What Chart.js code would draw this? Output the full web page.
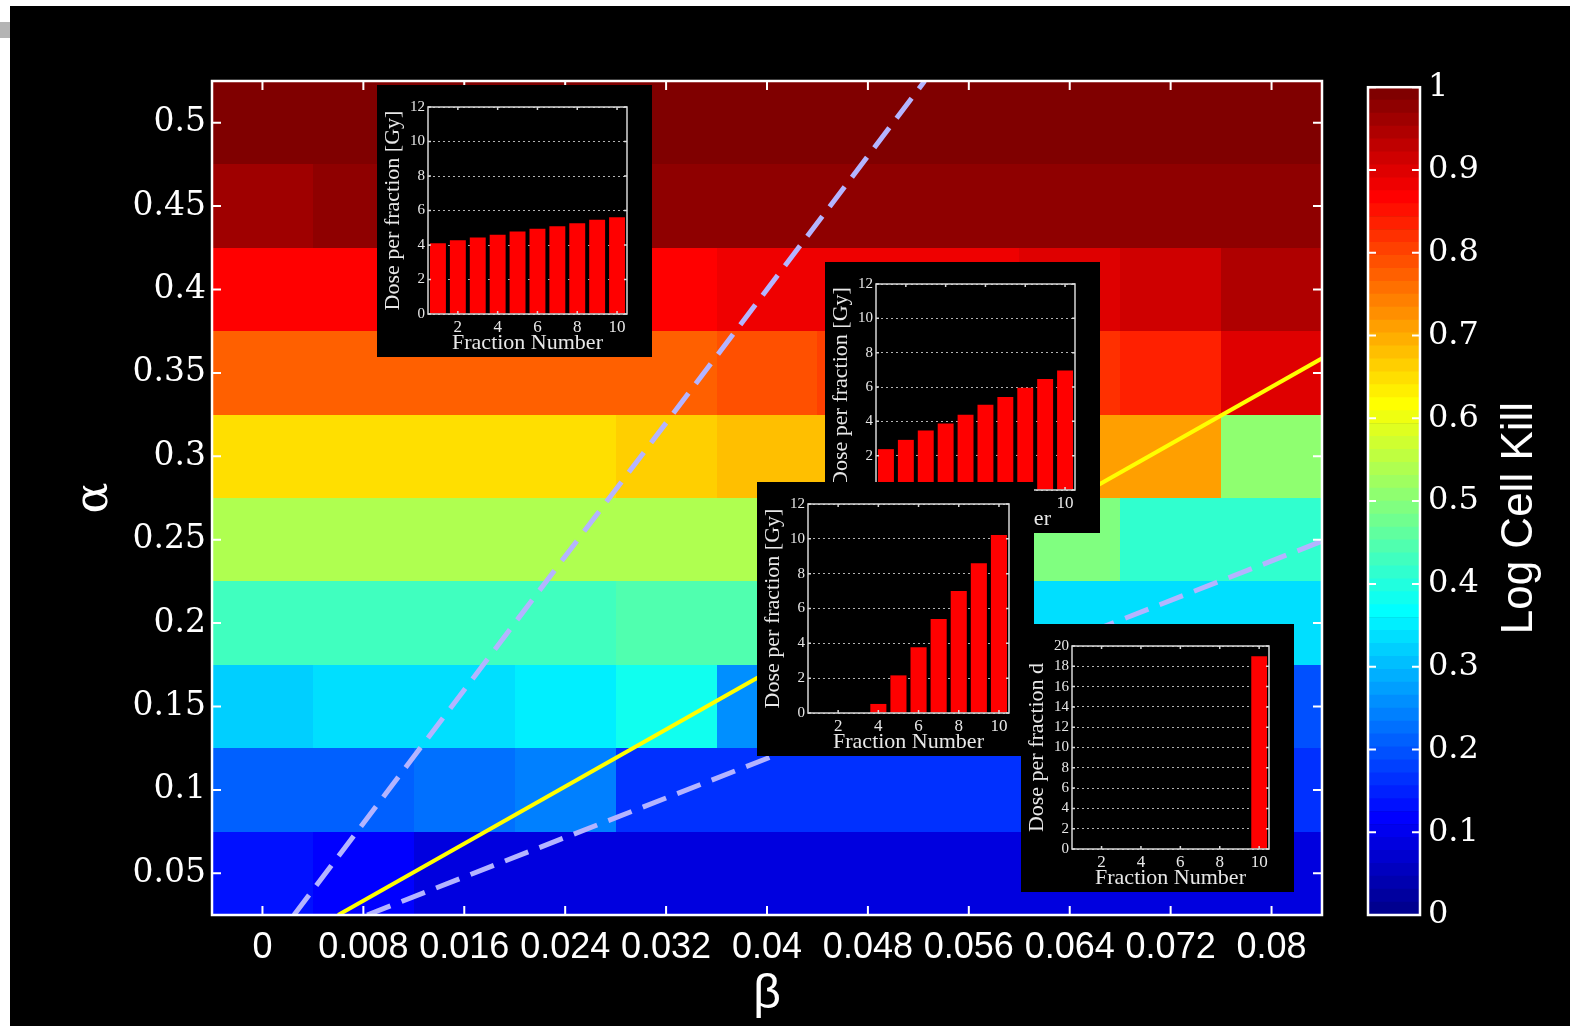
<!DOCTYPE html>
<html>
<head>
<meta charset="utf-8">
<script src="https://cdn.jsdelivr.net/npm/chart.js@4.4.1/dist/chart.umd.min.js"></script>
<style>
  html, body { margin: 0; padding: 0; width: 1570px; height: 1026px; overflow: hidden; background: #fff; position: relative; }
  #backdrop { position: absolute; left: 10px; top: 6px; width: 1560px; height: 1020px; background: #000; }
  #tab { position: absolute; left: 0; top: 22px; width: 10px; height: 16px; background: #b4b4b4; }
  .layer { position: absolute; }
  .inset { position: absolute; background: #000; }
  canvas { display: block; }
</style>
</head>
<body>
<div id="backdrop"></div>
<div id="tab"></div>
<div class="layer" style="left:0;top:0;"><canvas id="mainChart" width="1570" height="1026"></canvas></div>
<div class="layer" style="left:1340px;top:60px;"><canvas id="colorbar" width="230" height="900"></canvas></div>
<div class="inset" style="left:377px;top:85px;"><canvas id="insetA" width="275" height="272"></canvas></div>
<div class="inset" style="left:825px;top:262px;"><canvas id="insetB" width="275" height="271"></canvas></div>
<div class="inset" style="left:757px;top:482px;"><canvas id="insetC" width="277" height="274"></canvas></div>
<div class="inset" style="left:1021px;top:624px;"><canvas id="insetD" width="273" height="268"></canvas></div>

<script>
// ---- grid of the map: beta (columns) and alpha (rows) ----
const betaValues  = [0, 0.008, 0.016, 0.024, 0.032, 0.04, 0.048, 0.056, 0.064, 0.072, 0.08];
const alphaValues = [0.05, 0.1, 0.15, 0.2, 0.25, 0.3, 0.35, 0.4, 0.45, 0.5];
const xTickLabels = ['0', '0.008', '0.016', '0.024', '0.032', '0.04', '0.048', '0.056', '0.064', '0.072', '0.08'];
const yTickLabels = ['0.05', '0.1', '0.15', '0.2', '0.25', '0.3', '0.35', '0.4', '0.45', '0.5'];

// log cell kill, one row per alpha (0.05 first), one entry per beta
const killAlpha005 = [0.13, 0.12, 0.09, 0.09, 0.09, 0.09, 0.09, 0.09, 0.09, 0.09, 0.09];
const killAlpha010 = [0.21, 0.21, 0.23, 0.24, 0.16, 0.16, 0.16, 0.16, 0.16, 0.16, 0.16];
const killAlpha015 = [0.32, 0.34, 0.34, 0.35, 0.38, 0.26, 0.24, 0.23, 0.21, 0.21, 0.20];
const killAlpha020 = [0.43, 0.43, 0.43, 0.43, 0.45, 0.45, 0.41, 0.38, 0.34, 0.34, 0.34];
const killAlpha025 = [0.54, 0.54, 0.54, 0.54, 0.54, 0.54, 0.52, 0.51, 0.49, 0.41, 0.41];
const killAlpha030 = [0.65, 0.65, 0.65, 0.65, 0.66, 0.68, 0.68, 0.70, 0.71, 0.71, 0.51];
const killAlpha035 = [0.77, 0.77, 0.77, 0.77, 0.77, 0.79, 0.80, 0.82, 0.82, 0.84, 0.90];
const killAlpha040 = [0.87, 0.87, 0.87, 0.87, 0.87, 0.88, 0.88, 0.88, 0.90, 0.92, 0.95];
const killAlpha045 = [0.96, 0.98, 0.98, 0.98, 0.98, 0.98, 0.98, 0.98, 0.98, 0.98, 0.98];
const killAlpha050 = [0.99, 0.99, 0.99, 0.99, 0.99, 0.99, 0.99, 0.99, 0.99, 0.99, 0.99];
const logCellKill = [killAlpha005, killAlpha010, killAlpha015, killAlpha020, killAlpha025,
                     killAlpha030, killAlpha035, killAlpha040, killAlpha045, killAlpha050];

// boundary lines of constant alpha/beta (end points in beta, alpha)
const ratioLineSteep   = [{ x: 0.0025, y: 0.025 }, { x: 0.0525, y: 0.525 }];
const ratioLineMiddle  = [{ x: 0.0060, y: 0.025 }, { x: 0.0843, y: 0.360 }];
const ratioLineShallow = [{ x: 0.0083, y: 0.025 }, { x: 0.0843, y: 0.250 }];

// colour bar
const colorbarTicks  = [0, 0.1, 0.2, 0.3, 0.4, 0.5, 0.6, 0.7, 0.8, 0.9, 1];
const colorbarLabels = ['0', '0.1', '0.2', '0.3', '0.4', '0.5', '0.6', '0.7', '0.8', '0.9', '1'];
const colorLevels = 64;

// optimal fractionation schedules (dose per fraction, Gy)
const fractionNumbers = [1, 2, 3, 4, 5, 6, 7, 8, 9, 10];
const doseScheduleA = [4.10, 4.28, 4.43, 4.59, 4.78, 4.94, 5.09, 5.26, 5.46, 5.61];
const doseScheduleB = [2.38, 2.92, 3.46, 3.88, 4.38, 4.96, 5.42, 5.96, 6.46, 6.96];
const doseScheduleC = [0, 0, 0, 0.52, 2.16, 3.78, 5.39, 7.01, 8.60, 10.22];
const doseScheduleD = [0, 0, 0, 0, 0, 0, 0, 0, 0, 19.0];

// ---- jet colour map with 64 levels ----
function jetLevel(k) {
  const c = t => Math.round(255 * Math.max(0, Math.min(1, t)));
  const r = c(Math.min((k - 24) / 16, (72 - k) / 16));
  const g = c(Math.min((k - 8) / 16, (56 - k) / 16));
  const b = c(Math.min((k + 8) / 16, (40 - k) / 16));
  return `rgb(${r},${g},${b})`;
}
function jetColor(v) {
  const k = Math.min(colorLevels, Math.max(1, Math.floor(v * colorLevels) + 1));
  return jetLevel(k);
}

const WHITE = '#ffffff';

// heat map cells, painted under the lines
const heatmapPlugin = {
  id: 'heatmap',
  beforeDatasetsDraw(chart) {
    const { ctx, scales: { x, y } } = chart;
    const hb = (betaValues[1] - betaValues[0]) / 2;
    const ha = (alphaValues[1] - alphaValues[0]) / 2;
    ctx.save();
    logCellKill.forEach((row, i) => {
      const top = Math.round(y.getPixelForValue(alphaValues[i] + ha));
      const bottom = Math.round(y.getPixelForValue(alphaValues[i] - ha));
      row.forEach((v, j) => {
        const left = Math.round(x.getPixelForValue(betaValues[j] - hb));
        const right = Math.round(x.getPixelForValue(betaValues[j] + hb));
        ctx.fillStyle = jetColor(v);
        ctx.fillRect(left, top, right - left, bottom - top);
      });
    });
    ctx.restore();
  }
};

// white box with inward ticks on all four sides
const framePlugin = {
  id: 'frame',
  afterDatasetsDraw(chart, args, opts) {
    const { ctx, chartArea: a } = chart;
    const len = opts.tickLength || 9;
    ctx.save();
    ctx.strokeStyle = WHITE;
    ctx.lineWidth = 2;
    ctx.beginPath();
    Object.values(chart.scales).forEach(s => {
      if (!s.options.display) return;
      s.ticks.forEach(t => {
        if (s.isHorizontal()) {
          const px = s.getPixelForValue(t.value);
          ctx.moveTo(px, a.bottom); ctx.lineTo(px, a.bottom - len);
          ctx.moveTo(px, a.top); ctx.lineTo(px, a.top + len);
        } else {
          const py = s.getPixelForValue(t.value);
          ctx.moveTo(a.left, py); ctx.lineTo(a.left + len, py);
          ctx.moveTo(a.right, py); ctx.lineTo(a.right - len, py);
        }
      });
    });
    ctx.stroke();
    ctx.lineWidth = 2.5;
    ctx.strokeRect(a.left, a.top, a.right - a.left, a.bottom - a.top);
    ctx.restore();
  }
};

// ---- main map ----
const dashed = { showLine: true, borderColor: '#b4b4ff', borderWidth: 5, borderDash: [25, 12], pointRadius: 0, borderCapStyle: 'butt' };
new Chart(document.getElementById('mainChart'), {
  type: 'scatter',
  data: {
    datasets: [
      Object.assign({ data: ratioLineSteep }, dashed),
      Object.assign({ data: ratioLineShallow }, dashed),
      { data: ratioLineMiddle, showLine: true, borderColor: '#ffff00', borderWidth: 4, pointRadius: 0 }
    ]
  },
  options: {
    responsive: false,
    animation: false,
    events: [],
    layout: { padding: { left: 10, top: 81, right: 248, bottom: 0 } },
    plugins: { legend: { display: false }, tooltip: { enabled: false }, frame: { tickLength: 9 } },
    scales: {
      x: {
        type: 'linear', min: -0.004, max: 0.084,
        afterBuildTicks: s => { s.ticks = betaValues.map(v => ({ value: v })); },
        afterFit: s => { s.height = 111; },
        grid: { display: false, drawTicks: false }, border: { display: false },
        ticks: {
          color: WHITE, autoSkip: false, maxRotation: 0, padding: 11,
          font: { family: 'Liberation Sans', size: 36 },
          callback: (v, i) => xTickLabels[i]
        },
        title: { display: true, text: 'β', color: WHITE, font: { family: 'Liberation Sans', size: 48 }, padding: { top: 0, bottom: 2 } }
      },
      y: {
        type: 'linear', min: 0.025, max: 0.525,
        afterBuildTicks: s => { s.ticks = alphaValues.map(v => ({ value: v })); },
        afterFit: s => { s.width = 202; },
        grid: { display: false, drawTicks: false }, border: { display: false },
        ticks: {
          color: WHITE, autoSkip: false, padding: 6,
          font: { family: 'DejaVu Serif', size: 33 },
          callback: (v, i) => yTickLabels[i]
        },
        title: { display: true, text: 'α', color: WHITE, font: { family: 'DejaVu Serif', size: 46 }, padding: { top: 57, bottom: 0 } }
      }
    }
  },
  plugins: [heatmapPlugin, framePlugin]
});

// ---- colour bar ----
const levelDatasets = [];
for (let k = 1; k <= colorLevels; k++) {
  levelDatasets.push({ data: [1 / colorLevels], backgroundColor: jetLevel(k), borderWidth: 0, barPercentage: 1, categoryPercentage: 1 });
}
const colorbarTitle = {
  id: 'colorbarTitle',
  afterDraw(chart) {
    const { ctx, chartArea: a } = chart;
    ctx.save();
    ctx.translate(a.right + 100, (a.top + a.bottom) / 2 + 17);
    ctx.rotate(-Math.PI / 2);
    ctx.fillStyle = WHITE;
    ctx.font = '44px "Liberation Sans"';
    ctx.textAlign = 'center';
    ctx.textBaseline = 'middle';
    ctx.fillText('Log Cell Kill', 0, 0);
    ctx.restore();
  }
};
new Chart(document.getElementById('colorbar'), {
  type: 'bar',
  data: { labels: [''], datasets: levelDatasets },
  options: {
    responsive: false,
    animation: false,
    events: [],
    layout: { padding: { left: 28, top: 25, right: 0, bottom: 45 } },
    plugins: { legend: { display: false }, tooltip: { enabled: false }, frame: { tickLength: 8 } },
    scales: {
      x: { stacked: true, display: false },
      y: {
        stacked: true, position: 'right', min: 0, max: 1,
        afterBuildTicks: s => { s.ticks = colorbarTicks.map(v => ({ value: v })); },
        afterFit: s => { s.width = 150; },
        grid: { display: false, drawTicks: false }, border: { display: false },
        ticks: {
          color: WHITE, padding: 8,
          font: { family: 'DejaVu Serif', size: 32 },
          callback: (v, i) => colorbarLabels[i]
        }
      }
    }
  },
  plugins: [framePlugin, colorbarTitle]
});

// ---- inset bar charts of the dose schedules ----
const insetFrame = {
  id: 'insetFrame',
  afterDatasetsDraw(chart) {
    const { ctx, chartArea: a, scales: { x, y } } = chart;
    ctx.save();
    ctx.strokeStyle = '#d8d8d8';
    ctx.lineWidth = 1.5;
    ctx.strokeRect(a.left, a.top, a.right - a.left, a.bottom - a.top);
    ctx.beginPath();
    fractionNumbers.forEach((n, i) => {
      if (n % 2) return;
      const px = x.getPixelForValue(i);
      ctx.moveTo(px, a.top); ctx.lineTo(px, a.top + 3);
      ctx.moveTo(px, a.bottom); ctx.lineTo(px, a.bottom - 3);
    });
    y.ticks.forEach(t => {
      const py = y.getPixelForValue(t.value);
      ctx.moveTo(a.left, py); ctx.lineTo(a.left + 3, py);
      ctx.moveTo(a.right, py); ctx.lineTo(a.right - 3, py);
    });
    ctx.stroke();
    ctx.restore();
  }
};

function doseInset(canvasId, doses, yMax, yTitle) {
  new Chart(document.getElementById(canvasId), {
    type: 'bar',
    data: {
      labels: fractionNumbers,
      datasets: [{ data: doses, backgroundColor: '#ff0000', borderWidth: 0, barPercentage: 0.8, categoryPercentage: 1 }]
    },
    options: {
      responsive: false,
      animation: false,
      events: [],
      layout: { padding: { left: 0, top: 22, right: 25, bottom: 0 } },
      plugins: { legend: { display: false }, tooltip: { enabled: false } },
      scales: {
        x: {
          afterFit: s => { s.height = 43; },
          grid: { display: false, drawTicks: false }, border: { display: false },
          ticks: {
            color: '#e8e8e8', autoSkip: false, maxRotation: 0, padding: 3,
            font: { family: 'Liberation Serif', size: 17 },
            callback: (v, i) => (fractionNumbers[i] % 2 === 0 ? String(fractionNumbers[i]) : '')
          },
          title: { display: true, text: 'Fraction Number', color: '#e8e8e8', font: { family: 'Liberation Serif', size: 22 }, padding: { top: 0, bottom: 1 } }
        },
        y: {
          min: 0, max: yMax,
          afterFit: s => { s.width = 51; },
          grid: { color: 'rgba(255,255,255,0.7)', lineWidth: 1, drawTicks: false },
          border: { display: false, dash: [2, 3] },
          ticks: {
            color: '#e8e8e8', stepSize: 2, padding: 3, autoSkip: false,
            font: { family: 'Liberation Serif', size: 15 }
          },
          title: { display: true, text: yTitle, color: '#e8e8e8', font: { family: 'Liberation Serif', size: 22 }, padding: { top: 3, bottom: 0 } }
        }
      }
    },
    plugins: [insetFrame]
  });
}

doseInset('insetA', doseScheduleA, 12, 'Dose per fraction [Gy]');
doseInset('insetB', doseScheduleB, 12, 'Dose per fraction [Gy]');
doseInset('insetC', doseScheduleC, 12, 'Dose per fraction [Gy]');
doseInset('insetD', doseScheduleD, 20, 'Dose per fraction d');
</script>
</body>
</html>
